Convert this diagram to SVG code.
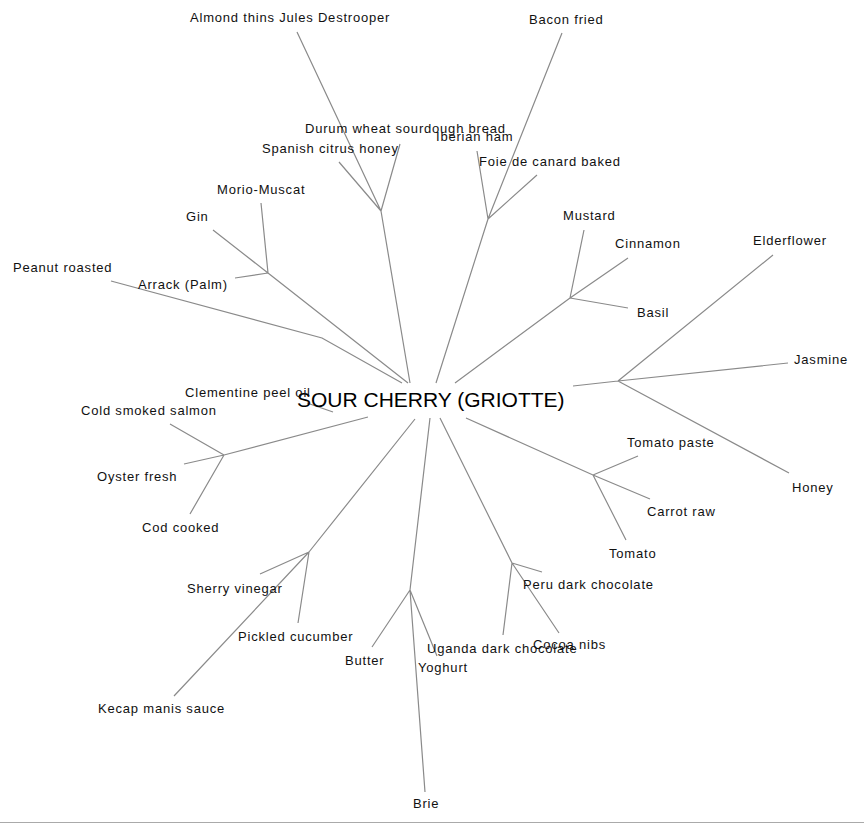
<svg xmlns="http://www.w3.org/2000/svg" width="864" height="824" viewBox="0 0 864 824">
<style>
.e{stroke:#8a8a8a;stroke-width:1.2;fill:none}
.t{font-family:"Liberation Sans",Arial,sans-serif;font-size:13px;letter-spacing:0.8px;fill:#111}
.c{font-family:"Liberation Sans",Arial,sans-serif;font-size:21px;fill:#000}
</style>
<rect width="864" height="824" fill="#fff"/>
<g id="connectors">
<path class="e" d="M410,383 L381,211 M381,211 L297,32 M381,211 L339,162 M381,211 L400,144"/>
<path class="e" d="M436,383 L488,219 M488,219 L562,33 M488,219 L477,151 M488,219 L537,175"/>
<path class="e" d="M455,383 L570,298 M570,298 L584,230 M570,298 L628,258 M570,298 L628,308"/>
<path class="e" d="M573,386 L618,381 M618,381 L773,255 M618,381 L788,363 M618,381 L789,473"/>
<path class="e" d="M466,418 L593,475 M593,475 L638,456 M593,475 L650,499 M593,475 L626,540"/>
<path class="e" d="M440,418 L512,563 M512,563 L542,572 M512,563 L503,635 M512,563 L559,633"/>
<path class="e" d="M430,418 L410,590 M410,590 L372,647 M410,590 L437,656 M410,590 L425,792"/>
<path class="e" d="M415,419 L309,552 M309,552 L260,574 M309,552 L298,623 M309,552 L174,696"/>
<path class="e" d="M368,417 L224,455 M224,455 L170,424 M224,455 L184,464 M224,455 L190,514"/>
<path class="e" d="M307,403 L333,412"/>
<path class="e" d="M402,383 L322,338 L111,281"/>
<path class="e" d="M408,383 L268,273 M268,273 L213,230 M268,273 L261,203 M268,273 L235,278"/>
<path d="M0,822.5 H864" stroke="#aaa" stroke-width="1"/>
</g>
<g id="root"><text class="c" x="297" y="407">SOUR CHERRY (GRIOTTE)</text></g>
<g id="n-almond"><text class="t" x="190" y="22">Almond thins Jules Destrooper</text></g>
<g id="n-bacon"><text class="t" x="529" y="24">Bacon fried</text></g>
<g id="n-durum"><text class="t" x="305" y="133">Durum wheat sourdough bread</text></g>
<g id="n-iberian"><text class="t" x="436" y="141">Iberian ham</text></g>
<g id="n-spanish"><text class="t" x="262" y="153">Spanish citrus honey</text></g>
<g id="n-foie"><text class="t" x="479" y="166">Foie de canard baked</text></g>
<g id="n-morio"><text class="t" x="217" y="194">Morio-Muscat</text></g>
<g id="n-gin"><text class="t" x="186" y="221">Gin</text></g>
<g id="n-mustard"><text class="t" x="563" y="220">Mustard</text></g>
<g id="n-cinnamon"><text class="t" x="615" y="248">Cinnamon</text></g>
<g id="n-elderflower"><text class="t" x="753" y="245">Elderflower</text></g>
<g id="n-peanut"><text class="t" x="13" y="272">Peanut roasted</text></g>
<g id="n-arrack"><text class="t" x="138" y="289">Arrack (Palm)</text></g>
<g id="n-basil"><text class="t" x="637" y="317">Basil</text></g>
<g id="n-jasmine"><text class="t" x="794" y="364">Jasmine</text></g>
<g id="n-clementine"><text class="t" x="185" y="397">Clementine peel oil</text></g>
<g id="n-salmon"><text class="t" x="81" y="415">Cold smoked salmon</text></g>
<g id="n-tomatopaste"><text class="t" x="627" y="447">Tomato paste</text></g>
<g id="n-oyster"><text class="t" x="97" y="481">Oyster fresh</text></g>
<g id="n-honey"><text class="t" x="792" y="492">Honey</text></g>
<g id="n-carrot"><text class="t" x="647" y="516">Carrot raw</text></g>
<g id="n-cod"><text class="t" x="142" y="532">Cod cooked</text></g>
<g id="n-tomato"><text class="t" x="609" y="558">Tomato</text></g>
<g id="n-peru"><text class="t" x="523" y="589">Peru dark chocolate</text></g>
<g id="n-sherry"><text class="t" x="187" y="593">Sherry vinegar</text></g>
<g id="n-pickled"><text class="t" x="238" y="641">Pickled cucumber</text></g>
<g id="n-cocoa"><text class="t" x="533" y="649">Cocoa nibs</text></g>
<g id="n-uganda"><text class="t" x="427" y="653">Uganda dark chocolate</text></g>
<g id="n-butter"><text class="t" x="345" y="665">Butter</text></g>
<g id="n-yoghurt"><text class="t" x="418" y="672">Yoghurt</text></g>
<g id="n-kecap"><text class="t" x="98" y="713">Kecap manis sauce</text></g>
<g id="n-brie"><text class="t" x="413" y="808">Brie</text></g>
</svg>
